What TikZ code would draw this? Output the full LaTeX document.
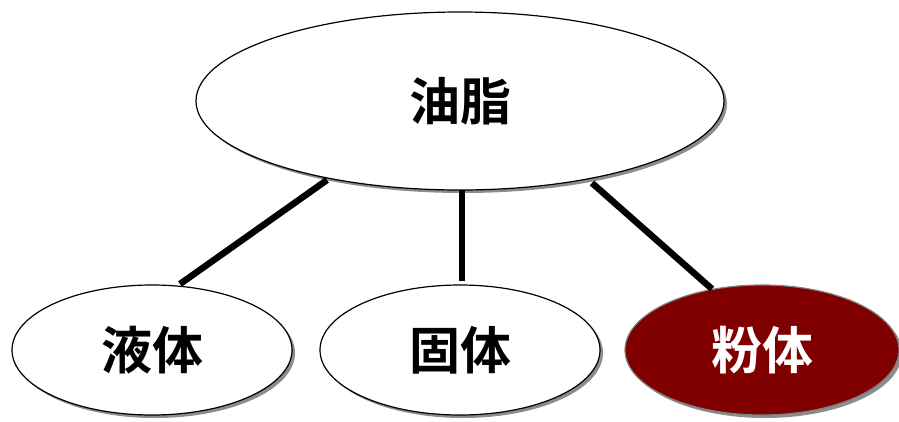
\documentclass[tikz,border=0pt]{standalone}
\usepackage{fontspec}
\newfontfamily\cjk{Noto Sans CJK JP Bold}
\usetikzlibrary{shapes.geometric,shadows}
\definecolor{darkred}{HTML}{800000}
\begin{document}
\begin{tikzpicture}[x=1pt,y=-1pt,
  blob/.style={ellipse,draw=black,line width=1.2pt,fill=white,
    drop shadow={shadow xshift=3pt,shadow yshift=-3pt,fill=gray!90,opacity=1},
    font=\cjk\fontsize{51}{55}\selectfont,inner sep=0pt},
  link/.style={line width=6.5pt}]
\useasboundingbox (0,0) rectangle (899,421);
\node[blob,minimum width=528pt,minimum height=178pt] (top) at (460,101) {油脂};
\node[blob,minimum width=280pt,minimum height=130pt] (liq) at (152,350) {液体};
\node[blob,minimum width=280pt,minimum height=130pt] (sol) at (460,350) {固体};
\node[blob,draw=gray,fill=darkred,text=white,minimum width=274pt,minimum height=130pt] (pow) at (762,350) {粉体};
\draw[link] (327,180) -- (180,284);
\draw[link] (462,190) -- (462,281);
\draw[link] (592,183) -- (712,289);
\end{tikzpicture}
\end{document}
